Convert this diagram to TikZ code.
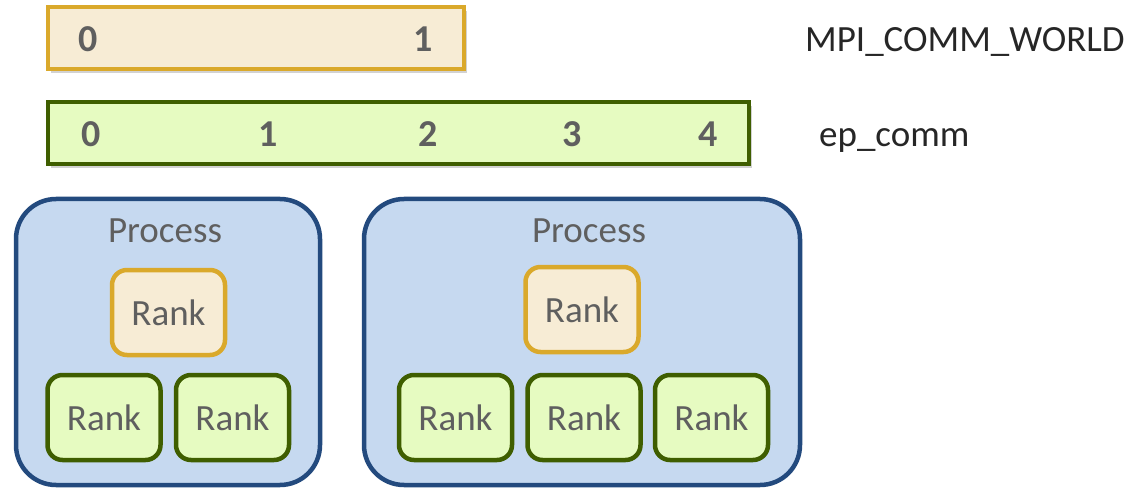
\documentclass[tikz,border=0pt]{standalone}
\usepackage{fontspec}
\setmainfont{Carlito}
\usetikzlibrary{shadows}
\definecolor{gold}{HTML}{DAA92B}
\definecolor{goldfill}{HTML}{F7ECD5}
\definecolor{grn}{HTML}{3F5E00}
\definecolor{grnfill}{HTML}{E6FBC1}
\definecolor{blu}{HTML}{234A7E}
\definecolor{blufill}{HTML}{C6D9F0}
\definecolor{txt}{HTML}{5F5F5F}
\definecolor{lbl}{HTML}{262626}
\tikzset{
  bar/.style={line width=4.5pt, inner sep=0pt,
    drop shadow={shadow xshift=3pt, shadow yshift=-4pt, opacity=0.25, fill=black!70}},
  mpibar/.style={bar, draw=gold, fill=goldfill},
  epbar/.style={bar, draw=grn, fill=grnfill},
  procbox/.style={draw=blu, fill=blufill, line width=4.5pt, rounded corners=40pt, inner sep=0pt},
  rankbox/.style={line width=4.5pt, rounded corners=15pt, inner sep=0pt,
    minimum width=113pt, minimum height=85pt, text=txt, font=\fontsize{37}{40}\selectfont},
  goldrank/.style={rankbox, draw=gold, fill=goldfill},
  grnrank/.style={rankbox, draw=grn, fill=grnfill},
  num/.style={anchor=base, inner sep=0pt, text=txt, font=\fontsize{38}{42}\selectfont\bfseries},
  proclbl/.style={anchor=base, inner sep=0pt, text=txt, font=\fontsize{37}{40}\selectfont},
  commlbl/.style={anchor=base west, inner sep=0pt, text=lbl, font=\fontsize{37}{40}\selectfont},
}
\begin{document}
\begin{tikzpicture}[x=1pt, y=-1pt]
\useasboundingbox (0,0) rectangle (1130,489);
% communicator bars
\node[mpibar, minimum width=416pt, minimum height=62pt] (mpi) at (256,38) {};
\node[epbar, minimum width=701pt, minimum height=62pt] (ep) at (398.5,133) {};
\node[num] (m0) at (88,52) {0};
\node[num] (m1) at (423,52) {1};
\node[num] (e0) at (91,147) {0};
\node[num] (e1) at (268,147) {1};
\node[num] (e2) at (428,147) {2};
\node[num] (e3) at (572,147) {3};
\node[num] (e4) at (708,147) {4};
\node[commlbl] (mpilbl) at (805,52) {MPI\_COMM\_WORLD};
\node[commlbl] (eplbl) at (819,147) {ep\_comm};
% processes
\node[procbox, minimum width=304pt, minimum height=286pt] (p1) at (168,342) {};
\node[procbox, minimum width=436pt, minimum height=286pt] (p2) at (582,342) {};
\node[proclbl] (p1lbl) at (165,243) {Process};
\node[proclbl] (p2lbl) at (589,243) {Process};
% ranks
\node[goldrank] (g1) at (168.5,312.5) {Rank};
\node[goldrank] (g2) at (582,309.5) {Rank};
\node[grnrank] (r1a) at (104,417.5) {Rank};
\node[grnrank] (r1b) at (232.5,417.5) {Rank};
\node[grnrank] (r2a) at (455.5,417.5) {Rank};
\node[grnrank] (r2b) at (584,417.5) {Rank};
\node[grnrank] (r2c) at (711.5,417.5) {Rank};
\end{tikzpicture}
\end{document}
